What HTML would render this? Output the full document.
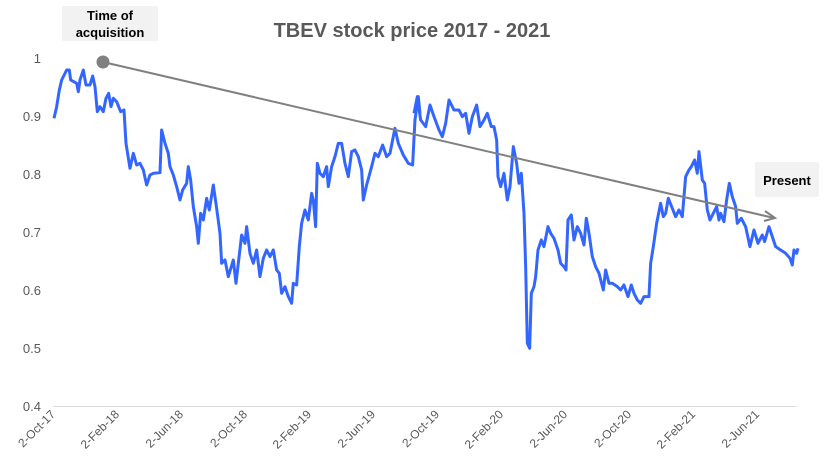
<!DOCTYPE html>
<html><head><style>body{margin:0;background:#fff}svg{display:block}text{font-family:"Liberation Sans",sans-serif}</style></head><body>
<svg width="824" height="474" viewBox="0 0 824 474">
<text x="412" y="37" text-anchor="middle" font-size="20" font-weight="bold" fill="#595959">TBEV stock price 2017 - 2021</text>
<g font-size="13" fill="#595959" text-anchor="end">
<text x="41" y="63">1</text><text x="41" y="121">0.9</text><text x="41" y="179">0.8</text><text x="41" y="237">0.7</text><text x="41" y="295">0.6</text><text x="41" y="353">0.5</text><text x="41" y="411">0.4</text>
</g>
<line x1="53" y1="406.5" x2="796" y2="406.5" stroke="#d9d9d9" stroke-width="1"/>
<g font-size="12" fill="#595959" text-anchor="end">
<text transform="translate(56,415) rotate(-45)">2-Oct-17</text>
<text transform="translate(120,415) rotate(-45)">2-Feb-18</text>
<text transform="translate(184,415) rotate(-45)">2-Jun-18</text>
<text transform="translate(248,415) rotate(-45)">2-Oct-18</text>
<text transform="translate(312,415) rotate(-45)">2-Feb-19</text>
<text transform="translate(376,415) rotate(-45)">2-Jun-19</text>
<text transform="translate(440,415) rotate(-45)">2-Oct-19</text>
<text transform="translate(504,415) rotate(-45)">2-Feb-20</text>
<text transform="translate(568,415) rotate(-45)">2-Jun-20</text>
<text transform="translate(632,415) rotate(-45)">2-Oct-20</text>
<text transform="translate(696,415) rotate(-45)">2-Feb-21</text>
<text transform="translate(760,415) rotate(-45)">2-Jun-21</text>
</g>
<g fill="none" stroke="#3366ff" stroke-width="9" stroke-linejoin="round">
<polyline transform="scale(0.3333)" points="162,355 170,320 178,270 185,240 200,210 208,210 212,240 230,250 235,275 240,240 250,210 258,255 270,255 278,228 285,260 292,335 300,320 310,335 318,295 326,280 333,320 340,295 350,305 362,335 372,330 378,430 390,505 400,460 410,495 420,490 430,510 440,555 450,525 460,520 480,518 485,390 495,430 505,460 510,500 520,525 530,560 540,600 548,570 560,550 565,500 572,540 580,620 590,680 595,730 602,640 610,660 620,595 628,630 640,555 650,625 660,700 665,790 675,780 685,830 700,780 708,850 715,790 725,705 735,730 740,680 750,760 760,790 770,750 780,830 790,775 800,750 810,770 820,750 830,810 838,820 845,880 855,860 865,890 875,910 880,850 890,855 898,740 905,670 915,630 925,660 935,580 940,600 947,680 952,490 960,520 970,530 980,500 985,560 995,500 1005,470 1015,430 1025,430 1035,490 1045,530 1055,455 1065,450 1075,470 1085,510 1090,600 1100,555 1115,500 1125,460 1135,470 1148,435 1160,470 1170,460 1185,385 1195,430 1210,465 1225,490 1238,495 1245,360 1255,290 1260,340"/>
<polyline transform="translate(404,0) scale(0.3333)" points="30,340 40,290 50,360 65,380 78,315 90,350 105,390 115,410 125,370 135,300 150,330 165,330 175,350 185,340 195,400 205,350 218,315 228,380 240,360 250,340 262,380 270,380 278,420 282,530 290,560 300,520 310,600 318,560 328,440 338,490 345,550 352,520 360,640 365,800 370,1030 377,1045 382,880 390,860 395,830 402,750 412,720 420,740 432,680 440,700 450,715 462,750 470,790 480,800 486,810 492,660 502,645 510,720 520,680 530,700 540,735 547,655 555,700 565,770 575,800 585,820 598,870 605,810 615,850 625,850 640,860 650,870 660,855 672,890 682,855 690,880 700,900 710,910 720,890 735,890 740,790 748,740 758,670 770,610 778,650 785,640 793,595 805,625 815,650 825,630 835,650 845,530 855,510 862,500 872,480 880,520 885,455 895,540 902,550 910,630 918,660 928,640 938,620 945,660 950,640 960,665 968,600 976,550 985,590 995,620 1000,670 1012,655 1025,680 1038,740 1050,690 1062,730 1075,705 1082,725 1095,680 1105,710 1115,740 1130,750 1145,760 1158,775 1165,795 1170,750 1178,760 1182,745"/>
</g>
<line x1="103" y1="62" x2="774" y2="218" stroke="#808080" stroke-width="2"/>
<polyline points="765,211 775,218 764,221" fill="none" stroke="#808080" stroke-width="2"/>
<circle cx="103" cy="62" r="6.5" fill="#808080"/>
<rect x="62" y="6" width="96" height="35" rx="2" fill="#f2f2f2"/>
<text x="110" y="20" text-anchor="middle" font-size="13" font-weight="bold" fill="#000">Time of</text>
<text x="110" y="37" text-anchor="middle" font-size="13" font-weight="bold" fill="#000">acquisition</text>
<rect x="755" y="162" width="64" height="35" rx="2" fill="#f2f2f2"/>
<text x="787" y="185" text-anchor="middle" font-size="13" font-weight="bold" fill="#000">Present</text>
</svg>
</body></html>
